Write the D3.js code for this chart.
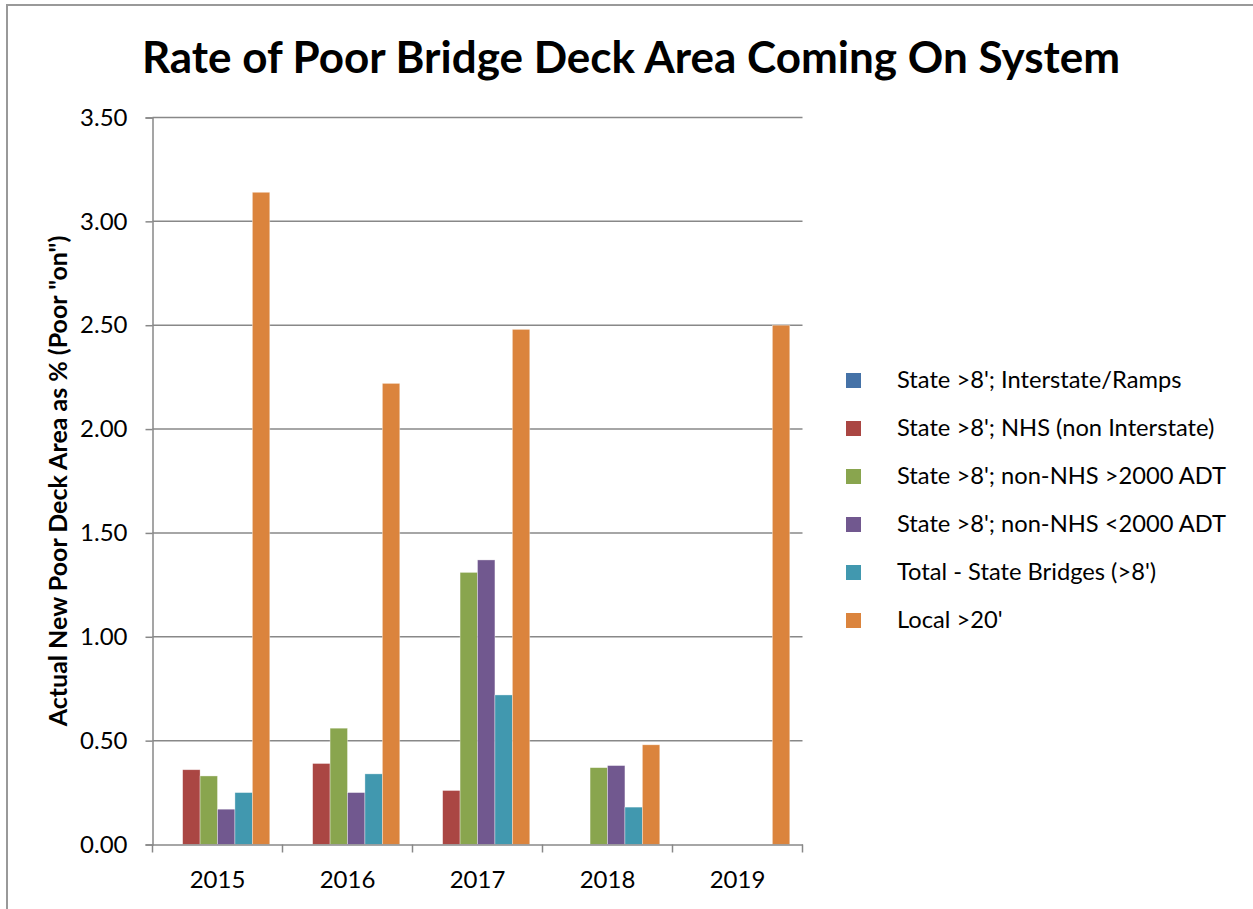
<!DOCTYPE html>
<html lang="en">
<head>
<meta charset="utf-8">
<title>Rate of Poor Bridge Deck Area Coming On System</title>
<script src="https://d3js.org/d3.v7.min.js"></script>
<style>
  body { margin: 0; background: #fff; font-family: Lato, "Open Sans", sans-serif; }
</style>
</head>
<body>
<div id="chart"></div>
<script>
// data
var years = ["2015", "2016", "2017", "2018", "2019"];
var seriesNames = [
  "State >8'; Interstate/Ramps",
  "State >8'; NHS (non Interstate)",
  "State >8'; non-NHS >2000 ADT",
  "State >8'; non-NHS <2000 ADT",
  "Total - State Bridges (>8')",
  "Local >20'"
];
var interstate = [0, 0, 0, 0, 0];
var nhs        = [0.36, 0.39, 0.26, 0, 0];
var over2000   = [0.33, 0.56, 1.31, 0.37, 0];
var under2000  = [0.17, 0.25, 1.37, 0.38, 0];
var totalState = [0.25, 0.34, 0.72, 0.18, 0];
var local      = [3.14, 2.22, 2.48, 0.48, 2.50];
var yTicks = [0, 0.5, 1, 1.5, 2, 2.5, 3, 3.5];

var colors = ["#4572A7", "#AA4643", "#89A54E", "#71588F", "#4198AF", "#DB843D"];
var values = [interstate, nhs, over2000, under2000, totalState, local];

var W = 1253, H = 909;
var plotLeft = 152.5, plotRight = 802.5, plotTop = 117.5, plotBottom = 844.5;

var svg = d3.select("#chart").append("svg")
  .attr("width", W).attr("height", H);

// chart border
svg.append("rect")
  .attr("x", 7).attr("y", 5)
  .attr("width", W).attr("height", H)
  .attr("fill", "none").attr("stroke", "#999").attr("stroke-width", 2);

svg.append("text")
  .attr("x", 631).attr("y", 73)
  .attr("text-anchor", "middle")
  .attr("font-size", 44).attr("font-weight", "bold")
  .text("Rate of Poor Bridge Deck Area Coming On System");

var x0 = d3.scaleBand().domain(years).range([plotLeft, plotRight]).paddingInner(0).paddingOuter(0);
var x1 = d3.scaleBand().domain(d3.range(seriesNames.length))
  .range([0, x0.bandwidth()]).paddingOuter(0.73).paddingInner(0);
var y = d3.scaleLinear().domain([0, 3.5]).range([plotBottom, plotTop]);

// gridlines
svg.append("g").selectAll("line")
  .data(yTicks.slice(1))
  .enter().append("line")
  .attr("x1", plotLeft).attr("x2", plotRight)
  .attr("y1", function(d){ return y(d); })
  .attr("y2", function(d){ return y(d); })
  .attr("stroke", "#888").attr("stroke-width", 1.5);

// bars
var rows = [];
years.forEach(function(yr, i){
  values.forEach(function(s, j){
    rows.push({ year: yr, s: j, v: s[i] });
  });
});
svg.append("g").selectAll("rect")
  .data(rows.filter(function(d){ return d.v > 0; }))
  .enter().append("rect")
  .attr("x", function(d){ return x0(d.year) + x1(d.s); })
  .attr("y", function(d){ return y(d.v); })
  .attr("width", x1.bandwidth())
  .attr("height", function(d){ return y(0) - y(d.v); })
  .attr("fill", function(d){ return colors[d.s]; })
  .attr("stroke", "rgba(255,255,255,0.5)").attr("stroke-width", 0.7);

// y axis
var yAxis = d3.axisLeft(y).tickValues(yTicks).tickSize(7).tickPadding(18)
  .tickFormat(d3.format(".2f"));
var gy = svg.append("g").attr("transform", "translate(" + plotLeft + ",0)").call(yAxis);
gy.select(".domain").attr("stroke", "#888").attr("stroke-width", 1.5);
gy.selectAll(".tick line").attr("stroke", "#888").attr("stroke-width", 1.5);
gy.selectAll(".tick text").attr("font-size", 24).attr("font-family", "Lato, sans-serif").attr("fill", "#000");

// x axis
var xAxis = d3.axisBottom(x0).tickSize(0).tickPadding(26);
var gx = svg.append("g").attr("transform", "translate(0," + plotBottom + ")").call(xAxis);
gx.select(".domain").attr("stroke", "#888").attr("stroke-width", 1.5);
gx.selectAll(".tick text").attr("font-size", 24).attr("font-family", "Lato, sans-serif").attr("fill", "#000");
gx.append("g").selectAll("line")
  .data(years.concat(["end"]))
  .enter().append("line")
  .attr("x1", function(d, i){ return plotLeft + i * x0.step(); })
  .attr("x2", function(d, i){ return plotLeft + i * x0.step(); })
  .attr("y1", 0).attr("y2", 8)
  .attr("stroke", "#888").attr("stroke-width", 1.5);

// y title
svg.append("text")
  .attr("transform", "translate(67," + ((plotTop + plotBottom) / 2) + ") rotate(-90)")
  .attr("text-anchor", "middle")
  .attr("font-size", 25).attr("font-weight", "bold")
  .text("Actual New Poor Deck Area as % (Poor \"on\")");

// legend
var lg = svg.append("g").selectAll("g")
  .data(seriesNames)
  .enter().append("g")
  .attr("transform", function(d, i){ return "translate(846," + (380 + i * 48) + ")"; });
lg.append("rect")
  .attr("x", 0).attr("y", -7).attr("width", 15).attr("height", 15)
  .attr("fill", function(d, i){ return colors[i]; });
lg.append("text")
  .attr("x", 51).attr("y", 8)
  .attr("font-size", 23.7)
  .text(function(d){ return d; });
</script>
</body>
</html>
